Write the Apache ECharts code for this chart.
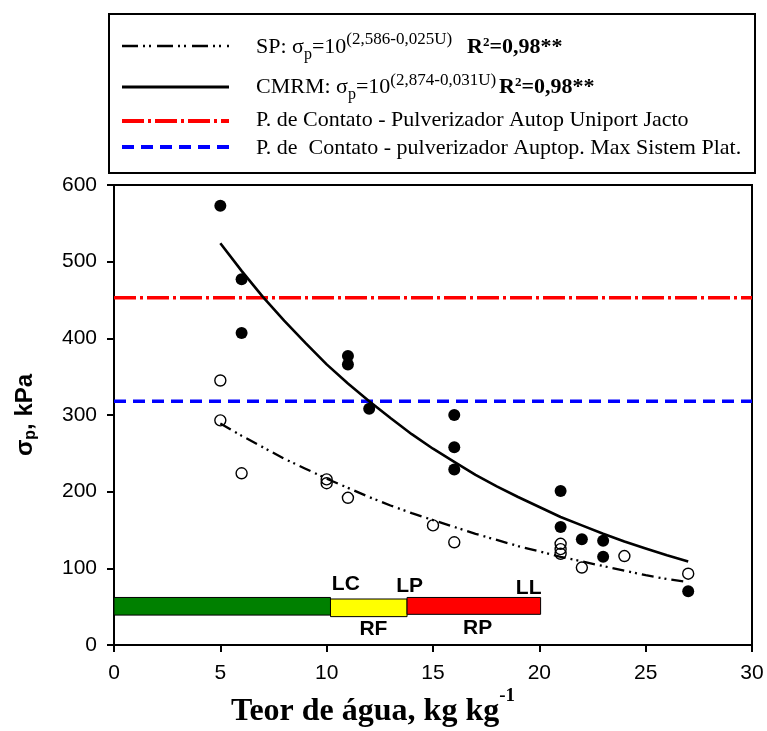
<!DOCTYPE html>
<html><head><meta charset="utf-8">
<script src="https://cdn.jsdelivr.net/npm/echarts@6/dist/echarts.min.js"></script>
<style>html,body{margin:0;padding:0;background:#fff}#c{width:767px;height:731px}</style>
</head><body><div id="c"></div>
<script>
// ---------- data ----------
const xTicks = [0, 5, 10, 15, 20, 25, 30];
const yTicks = [0, 100, 200, 300, 400, 500, 600];
// open circles (SP)
const spPoints = [[5,345],[5,293],[6,224],[10,216],[10,211],[11,192],[15,156],[16,134],[21,132],[21,125],[21,119],[22,101],[24,116],[27,93]];
// filled circles (CMRM)
const cmrmPoints = [[5,573],[6,477],[6,407],[11,377],[11,366],[12,308],[16,300],[16,258],[16,229],[21,201],[21,154],[22,138],[23,136],[23,115],[27,70]];
// fitted curves
const fitU = [5, 6, 7, 8, 9, 10, 11, 12, 13, 14, 15, 16, 17, 18, 19, 20, 21, 22, 23, 24, 25, 26, 27];
const spFit = [289, 273, 258, 243, 230, 217, 205, 193, 182, 172, 163, 154, 145, 137, 129, 122, 115, 109, 103, 97, 91, 86, 82];
const cmrmFit = [524, 488, 454, 423, 394, 366, 341, 318, 296, 275, 256, 239, 222, 207, 193, 180, 167, 156, 145, 135, 126, 117, 109];
// contact pressures (horizontal reference lines)
const xSpan = [0, 30];
const contactUniport = 453;
const contactMax = 318;
// consistency zones (bars)
const zoneStart = [0, 10.18, 13.78];
const zoneEnd = [10.18, 13.78, 20.06];
const zoneLow = [39, 37, 40];
const zoneHigh = [62, 60, 62];
// limit / zone labels
const markText = ['LC', 'LP', 'LL', 'RF', 'RP'];
const markX = [10.9, 13.9, 19.5, 12.2, 17.1];
const markY = [79, 77, 74, 21, 22];
// legend texts
const legendTexts = [
  '{n|SP: σ}{sub|p}{n|=10}{sup|(2,586-0,025U)}{bR1|R}{bsup|2}{b|=0,98**}',
  '{n|CMRM: σ}{sub|p}{n|=10}{sup|(2,874-0,031U)}{bR2|R}{bsup|2}{b|=0,98**}',
  'P. de Contato - Pulverizador Autop Uniport Jacto',
  'P. de  Contato - pulverizador Auptop. Max Sistem Plat.'
];

// ---------- styles ----------
const serif = '"Liberation Serif", "Times New Roman", serif';
const sans = '"Liberation Sans", Arial, sans-serif';
const zoneColors = ['#008000', '#ffff00', '#ff0000'];

const legendRich = {
  n:   {fill:'#000', fontFamily:serif, fontSize:22, lineHeight:36, verticalAlign:'middle'},
  sub: {fill:'#000', fontFamily:serif, fontSize:16, verticalAlign:'bottom', padding:[0,0,3,0]},
  sup: {fill:'#000', fontFamily:serif, fontSize:17, verticalAlign:'top', padding:[2,0,0,0]},
  b:   {fill:'#000', fontFamily:serif, fontSize:22, fontWeight:'bold', verticalAlign:'middle'},
  bR1: {fill:'#000', fontFamily:serif, fontSize:22, fontWeight:'bold', verticalAlign:'middle', padding:[0,0,0,15]},
  bR2: {fill:'#000', fontFamily:serif, fontSize:22, fontWeight:'bold', verticalAlign:'middle', padding:[0,0,0,3]},
  bsup:{fill:'#000', fontFamily:serif, fontSize:13, fontWeight:'bold', verticalAlign:'top', padding:[7,0,0,0]}
};

const chart = echarts.init(document.getElementById('c'), null, {renderer:'canvas'});

const axisCommon = {
  type:'value',
  axisLine:{show:true, onZero:false, lineStyle:{color:'#000', width:2}},
  axisTick:{show:true, inside:false, length:7, lineStyle:{color:'#000', width:2}},
  axisLabel:{show:true, color:'#000', fontFamily:sans, fontSize:21},
  splitLine:{show:false},
  nameLocation:'middle',
  nameMoveOverlap:false
};

const option = {
  animation:false,
  backgroundColor:'#fff',
  grid:{left:114, right:15, top:185, bottom:86, show:true, borderColor:'#000', borderWidth:2,
        backgroundColor:'transparent', containLabel:false, outerBoundsMode:'none'},
  xAxis: Object.assign({}, axisCommon, {
    min:xTicks[0], max:xTicks[xTicks.length-1], interval:xTicks[1]-xTicks[0],
    axisLabel:Object.assign({}, axisCommon.axisLabel, {margin:18}),
    name:'{t|Teor de água, kg kg}{s|-1}',
    nameGap:40,
    nameTextStyle:{padding:[0,120,0,0], rich:{
      t:{fontFamily:serif, fontSize:32, fontWeight:'bold', color:'#000', lineHeight:43, verticalAlign:'bottom'},
      s:{fontFamily:serif, fontSize:19, fontWeight:'bold', color:'#000', verticalAlign:'top', padding:[2,0,0,0]}
    }}
  }),
  yAxis: Object.assign({}, axisCommon, {
    min:yTicks[0], max:yTicks[yTicks.length-1], interval:yTicks[1]-yTicks[0],
    axisLabel:Object.assign({}, axisCommon.axisLabel, {margin:17}),
    name:'{b|σ}{s|p}{b|, kPa}',
    nameRotate:90,
    nameGap:75,
    nameTextStyle:{rich:{
      b:{fontFamily:sans, fontSize:24, fontWeight:'bold', color:'#000', lineHeight:28, verticalAlign:'middle'},
      s:{fontFamily:sans, fontSize:16, fontWeight:'bold', color:'#000', verticalAlign:'bottom'}
    }}
  }),
  series:[
    {
      type:'custom', name:'zones', silent:true, z:2,
      data: zoneStart.map((s,i)=>[s, zoneEnd[i], zoneLow[i], zoneHigh[i]]),
      encode:{x:[0,1], y:[2,3]},
      renderItem:function(params, api){
        const p0 = api.coord([api.value(0), api.value(3)]);
        const p1 = api.coord([api.value(1), api.value(2)]);
        return {type:'rect', shape:{x:p0[0], y:p0[1], width:p1[0]-p0[0], height:p1[1]-p0[1]},
                style:{fill:zoneColors[params.dataIndex], stroke:'#000', lineWidth:1}};
      }
    },
    {
      type:'custom', name:'labels', silent:true, z:3,
      data: markX.map((x,i)=>[x, markY[i]]),
      encode:{x:0, y:1},
      renderItem:function(params, api){
        const p = api.coord([api.value(0), api.value(1)]);
        return {type:'text', x:p[0], y:p[1],
                style:{text:markText[params.dataIndex], fill:'#000', font:'bold 21px ' + sans,
                       align:'center', verticalAlign:'middle'}};
      }
    },
    {
      type:'line', name:'Uniport', silent:true, symbol:'none', z:4,
      data: xSpan.map(x=>[x, contactUniport]),
      lineStyle:{color:'#ff0000', width:3.5, type:[22,4,3,4], opacity:1}
    },
    {
      type:'line', name:'Max', silent:true, symbol:'none', z:4,
      data: xSpan.map(x=>[x, contactMax]),
      lineStyle:{color:'#0000ff', width:3.5, type:[12,7], opacity:1}
    },
    {
      type:'line', name:'SP fit', silent:true, symbol:'none', smooth:false, z:5,
      data: fitU.map((u,i)=>[u, spFit[i]]),
      lineStyle:{color:'#000', width:2.3, type:[12,5,2,4,2,5], opacity:1}
    },
    {
      type:'line', name:'CMRM fit', silent:true, symbol:'none', smooth:false, z:5,
      data: fitU.map((u,i)=>[u, cmrmFit[i]]),
      lineStyle:{color:'#000', width:2.6, type:'solid', opacity:1}
    },
    {
      type:'scatter', name:'SP', symbol:'circle', symbolSize:11, z:6,
      data: spPoints,
      itemStyle:{color:'rgba(0,0,0,0)', borderColor:'#000', borderWidth:1.4, opacity:1}
    },
    {
      type:'scatter', name:'CMRM', symbol:'circle', symbolSize:12, z:6,
      data: cmrmPoints,
      itemStyle:{color:'#000', borderColor:'#000', borderWidth:0, opacity:1}
    }
  ],
  graphic:[
    {type:'rect', z:10, shape:{x:109, y:14, width:646, height:159}, style:{fill:'#fff', stroke:'#000', lineWidth:2}},
    {type:'line', z:11, shape:{x1:122, y1:46, x2:229, y2:46}, style:{stroke:'#000', lineWidth:2.5, lineDash:[16,5,2,4,2,6]}},
    {type:'line', z:11, shape:{x1:122, y1:87, x2:229, y2:87}, style:{stroke:'#000', lineWidth:2.8}},
    {type:'line', z:11, shape:{x1:122, y1:121, x2:229, y2:121}, style:{stroke:'#ff0000', lineWidth:3.8, lineDash:[22,4,3,4]}},
    {type:'line', z:11, shape:{x1:122, y1:147, x2:229, y2:147}, style:{stroke:'#0000ff', lineWidth:3.8, lineDash:[12,7]}},
    {type:'text', z:11, x:256, y:29.5, style:{text:legendTexts[0], rich:legendRich, fill:'#000', align:'left', verticalAlign:'top'}},
    {type:'text', z:11, x:256, y:69.6, style:{text:legendTexts[1], rich:legendRich, fill:'#000', align:'left', verticalAlign:'top'}},
    {type:'text', z:11, x:256, y:120.6, style:{text:legendTexts[2], fill:'#000', font:'22px ' + serif, align:'left', verticalAlign:'middle'}},
    {type:'text', z:11, x:256, y:148.6, style:{text:legendTexts[3], fill:'#000', font:'22px ' + serif, align:'left', verticalAlign:'middle'}}
  ]
};
chart.setOption(option);
</script>
</body></html>
